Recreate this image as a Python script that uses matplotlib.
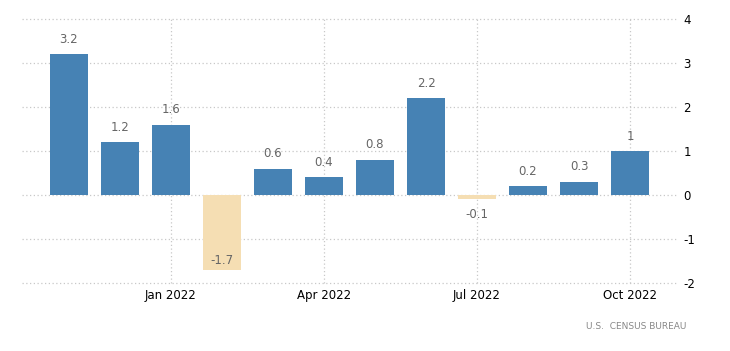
import matplotlib.pyplot as plt
import numpy as np

plt.rcParams['axes.unicode_minus'] = False

# monthly % change, Nov 2021 - Oct 2022
months = ['Nov 2021', 'Dec 2021', 'Jan 2022', 'Feb 2022', 'Mar 2022', 'Apr 2022',
          'May 2022', 'Jun 2022', 'Jul 2022', 'Aug 2022', 'Sep 2022', 'Oct 2022']
values = [3.2, 1.2, 1.6, -1.7, 0.6, 0.4, 0.8, 2.2, -0.1, 0.2, 0.3, 1]
tick_labels = ['Jan 2022', 'Apr 2022', 'Jul 2022', 'Oct 2022']

fig = plt.figure(figsize=(7.3, 3.51), dpi=100)
ax = fig.add_axes([0.0301, 0.1937, 0.8987, 0.7522])

x = np.arange(len(months))
colors = ['#4682B4' if v >= 0 else '#F5DEB3' for v in values]
ax.bar(x, values, width=0.74, color=colors, zorder=2)

for xi, v in zip(x, values):
    lbl = f'{v:g}'
    if v >= 0:
        ax.annotate(lbl, (xi, v), xytext=(0, 6), textcoords='offset points',
                    ha='center', va='bottom', fontsize=8.5, color='#666666')
    elif v < -1:
        ax.annotate(lbl, (xi, v), xytext=(0, 2), textcoords='offset points',
                    ha='center', va='bottom', fontsize=8.5, color='#666666')
    else:
        ax.annotate(lbl, (xi, v), xytext=(0, -6), textcoords='offset points',
                    ha='center', va='top', fontsize=8.5, color='#666666')

ax.set_xlim(-0.92, 11.94)
ax.set_ylim(-2, 4)
ax.set_xticks([months.index(m) for m in tick_labels])
ax.set_xticklabels(tick_labels, fontsize=8.5)
ax.set_yticks(range(-2, 5))
ax.yaxis.tick_right()
ax.tick_params(length=0, labelsize=8.5, pad=4)

ax.grid(True, linestyle=(0, (1, 2)), color='#c8c8c8', linewidth=0.9, zorder=0)
for gl in ax.get_xgridlines() + ax.get_ygridlines():
    gl.set_clip_on(False)
ax.set_axisbelow(True)
for s in ax.spines.values():
    s.set_visible(False)

fig.text(0.94, 0.07, 'U.S.  CENSUS BUREAU', ha='right', va='center',
         fontsize=6.5, color='#888888')

plt.savefig('out.png', dpi=100)
